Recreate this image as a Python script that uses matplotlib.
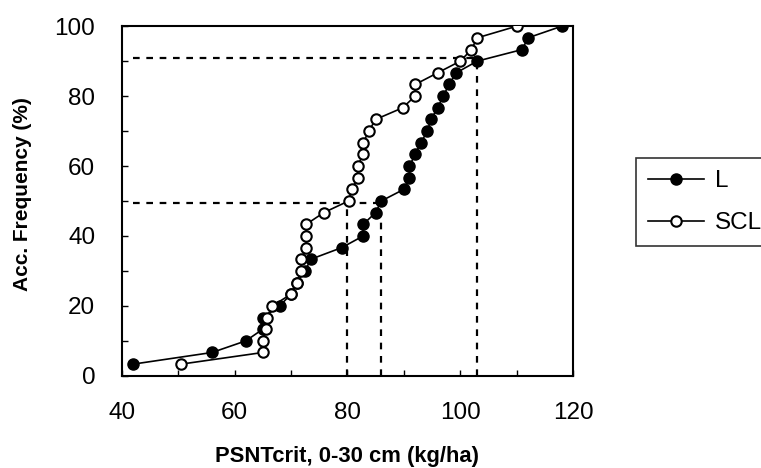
import numpy as np
import matplotlib
matplotlib.use("Agg")
import matplotlib.pyplot as plt

plt.rcParams['font.family'] = ['Liberation Sans', 'DejaVu Sans']

# cumulative frequency (%) steps, 30 samples each
freq = np.arange(1, 31) / 30 * 100

# PSNTcrit values (kg/ha), sorted
psnt_L = [42, 56, 62, 65, 65, 68, 70, 71, 72.5, 73.5,
          79, 82.8, 82.8, 85, 86, 90, 91, 91, 92, 93,
          94.2, 94.8, 96, 97, 98, 99.3, 103, 111, 112, 118]
psnt_SCL = [50.5, 65, 65, 65.5, 65.7, 66.7, 70, 71, 71.8, 71.8,
            72.7, 72.7, 72.7, 75.8, 80.2, 80.8, 81.8, 81.8, 82.8, 82.8,
            83.8, 85, 89.8, 92, 92, 96, 100, 102, 103, 110]

# guide lines: (x from, x to, y) and (x, y from, y to)
hguides = [(42, 103, 90.8), (42, 86, 49.5)]
vguides = [(80, 0, 49.5), (86, 0, 47), (103, 0, 90.8)]

fig = plt.figure(figsize=(7.61, 4.68), dpi=100)
ax = fig.add_axes([0.160, 0.197, 0.593, 0.747])

for x0, x1, y in hguides:
    ax.plot([x0, x1], [y, y], color='black', lw=1.6, ls=(0, (3, 3)), zorder=1)
for x, y0, y1 in vguides:
    ax.plot([x, x], [y0, y1], color='black', lw=1.6, ls=(0, (3, 3)), zorder=1)

ax.plot(psnt_L, freq, color='black', lw=1.2, marker='o', ms=8,
        mfc='black', mec='black', label='L', zorder=3)
ax.plot(psnt_SCL, freq, color='black', lw=1.2, marker='o', ms=7.5,
        mfc='white', mec='black', mew=1.5, label='SCL', zorder=4)

ax.set_xlim(40, 120)
ax.set_ylim(0, 100)
ax.set_xticks(np.arange(40, 121, 20))
ax.set_xticks(np.arange(40, 121, 10), minor=True)
ax.set_yticks(np.arange(0, 101, 20))
ax.set_yticks(np.arange(0, 101, 10), minor=True)
ax.tick_params(which='both', direction='in', length=4, width=1, labelsize=17.5)
ax.tick_params(axis='y', pad=19)
ax.tick_params(axis='x', pad=19)
for s in ax.spines.values():
    s.set_linewidth(1.5)

ax.set_xlabel('PSNTcrit, 0-30 cm (kg/ha)', fontsize=15.8, fontweight='bold', labelpad=16)
ax.set_ylabel('Acc. Frequency (%)', fontsize=15, fontweight='bold')
ax.yaxis.set_label_coords(-0.2, 0.52)

leg = fig.legend(loc='upper left', bbox_to_anchor=(0.8357, 0.6624), borderaxespad=0,
                 fontsize=17.5, frameon=True, fancybox=False, edgecolor='black',
                 handlelength=2.3, handletextpad=0.45, labelspacing=0.82, borderpad=0.5)
leg.get_frame().set_linewidth(1.2)

fig.savefig('out.png', dpi=100)
